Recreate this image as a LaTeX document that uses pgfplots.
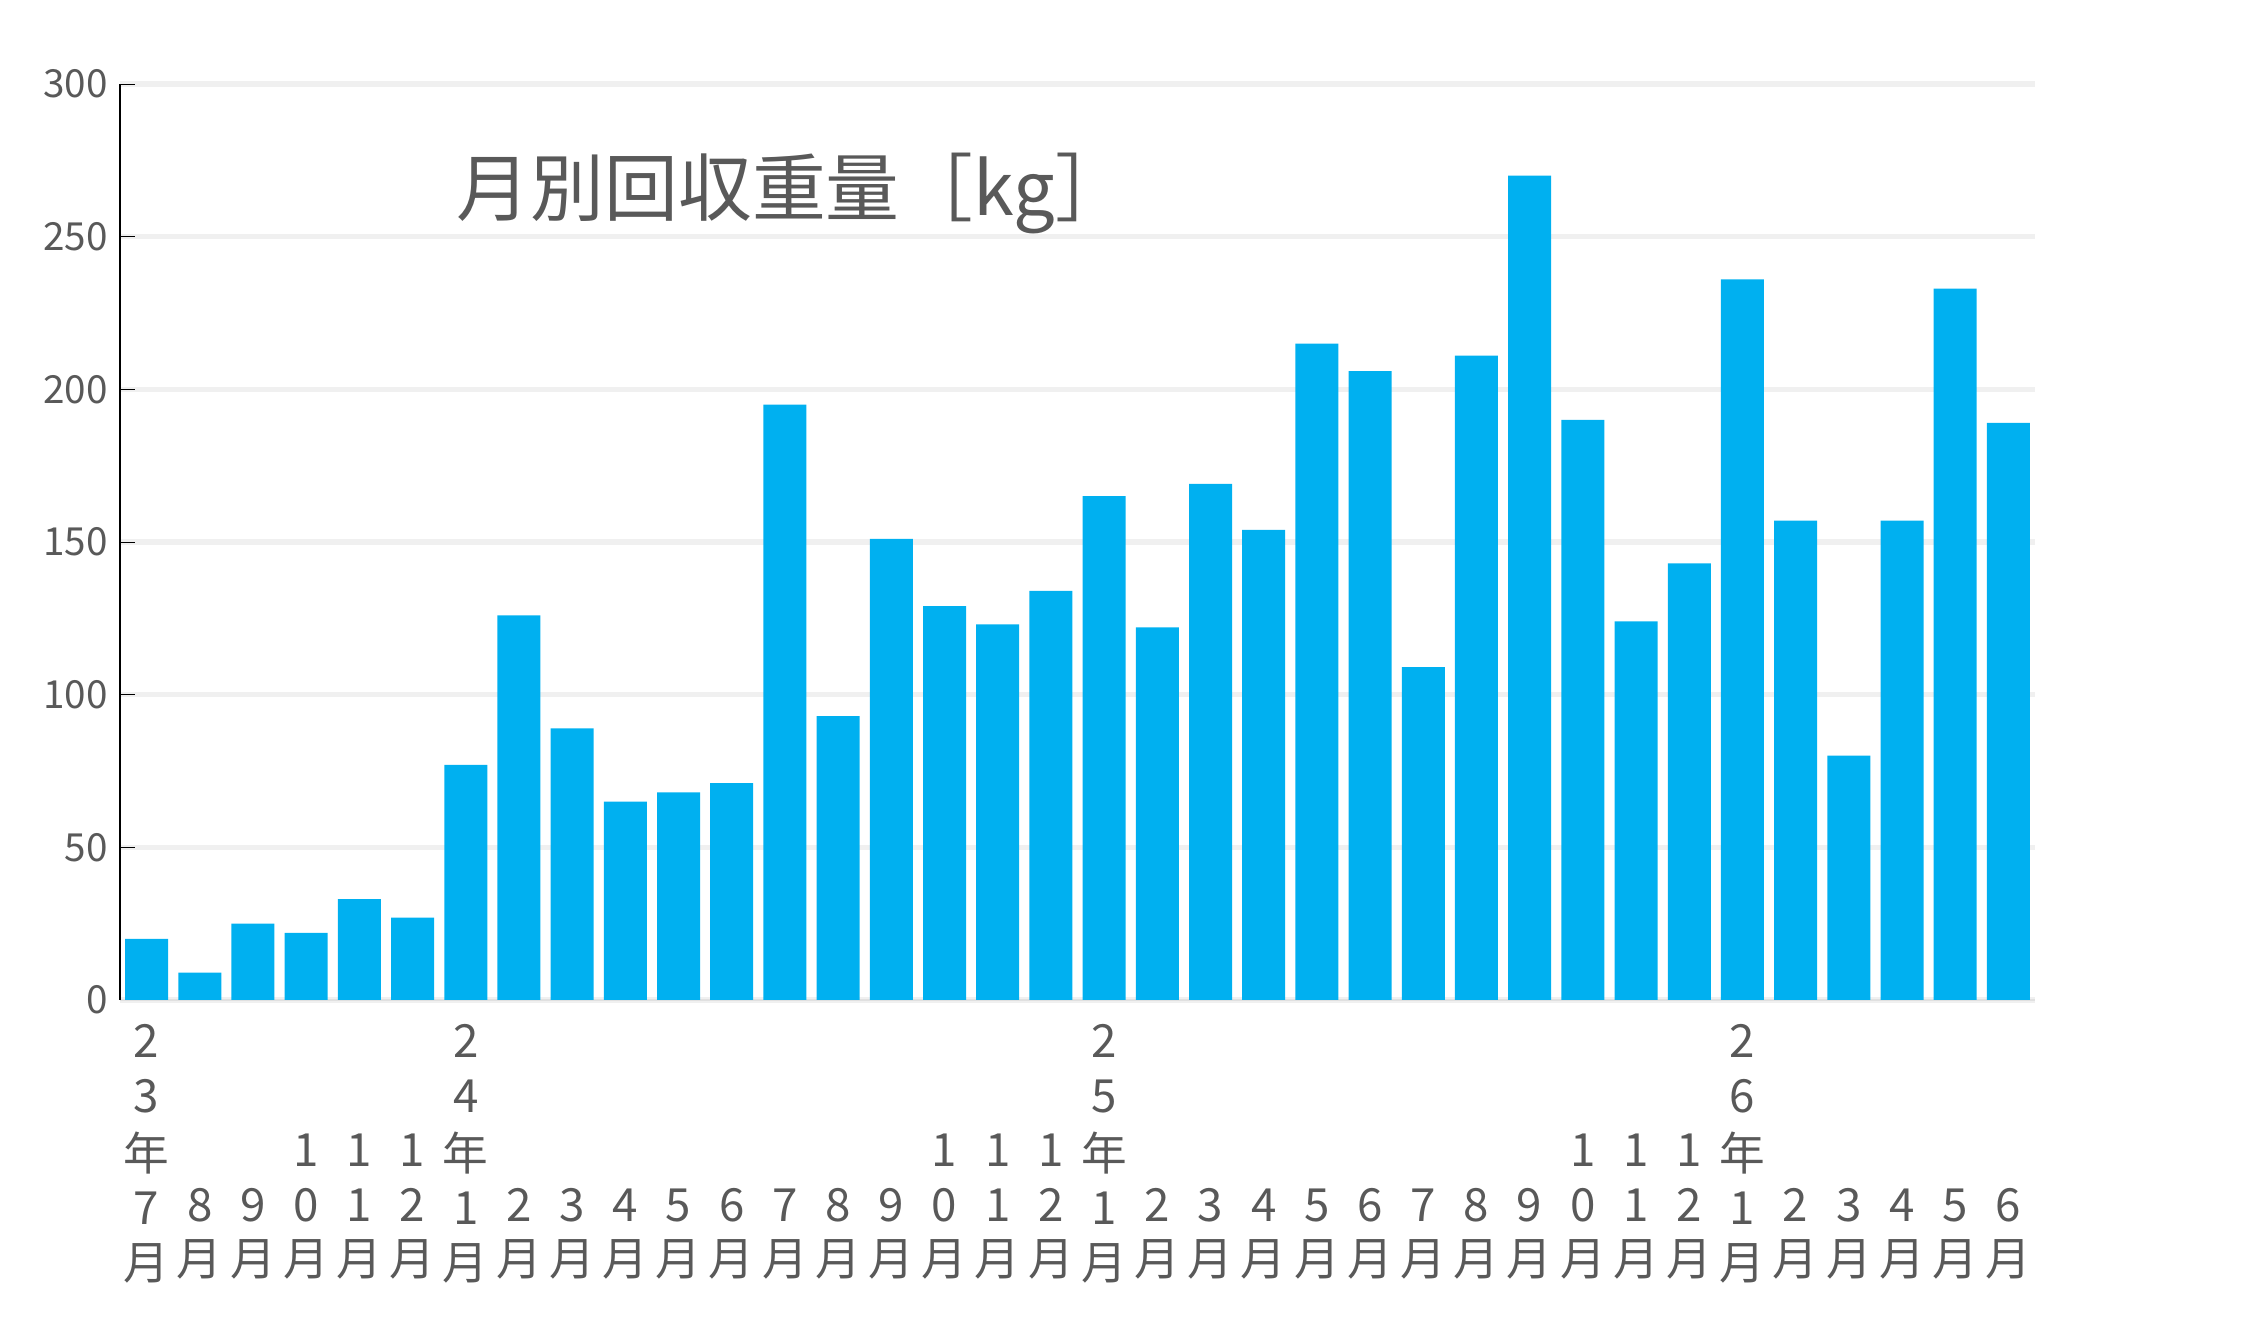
\documentclass[border=0pt]{standalone}
\usepackage{pgfplots}
\pgfplotsset{compat=1.18}
\usepackage{fontspec}
\setmainfont{Noto Sans CJK JP}
\newfontfamily\cjk{Noto Sans CJK JP}
\definecolor{bar}{HTML}{00B0F0}
\definecolor{txt}{HTML}{595959}
\begin{document}
\begin{tikzpicture}
\newcommand{\lab}[5]{\strut #1\\\strut #2\\\strut #3\\\strut #4\\\strut #5}
\begin{axis}[
  scale only axis, width=19.15cm, height=9.16cm,
  xmin=-0.5, xmax=35.5, ymin=0, ymax=300,
  ytick={0,50,...,300},
  ymajorgrids, grid style={draw=black!6, line width=1.5pt},
  axis line style={draw=black!12},
  axis x line*=bottom, axis y line*=left,
  y axis line style={draw=black},
  ytick style={draw=black}, xtick style={draw=black!25},
  yticklabel style={font=\fontsize{11}{13}\selectfont, text=txt},
  /pgf/number format/assume math mode=true,
  xtick={0,...,35},
  xticklabel style={font=\fontsize{13}{15.5}\selectfont, text=txt, align=center, anchor=north, yshift=-2pt},
  xticklabels={
   {\lab{2}{3}{年}{7}{月}},{\lab{}{}{}{8}{月}},{\lab{}{}{}{9}{月}},{\lab{}{}{1}{0}{月}},{\lab{}{}{1}{1}{月}},{\lab{}{}{1}{2}{月}},
   {\lab{2}{4}{年}{1}{月}},{\lab{}{}{}{2}{月}},{\lab{}{}{}{3}{月}},{\lab{}{}{}{4}{月}},{\lab{}{}{}{5}{月}},{\lab{}{}{}{6}{月}},
   {\lab{}{}{}{7}{月}},{\lab{}{}{}{8}{月}},{\lab{}{}{}{9}{月}},{\lab{}{}{1}{0}{月}},{\lab{}{}{1}{1}{月}},{\lab{}{}{1}{2}{月}},
   {\lab{2}{5}{年}{1}{月}},{\lab{}{}{}{2}{月}},{\lab{}{}{}{3}{月}},{\lab{}{}{}{4}{月}},{\lab{}{}{}{5}{月}},{\lab{}{}{}{6}{月}},
   {\lab{}{}{}{7}{月}},{\lab{}{}{}{8}{月}},{\lab{}{}{}{9}{月}},{\lab{}{}{1}{0}{月}},{\lab{}{}{1}{1}{月}},{\lab{}{}{1}{2}{月}},
   {\lab{2}{6}{年}{1}{月}},{\lab{}{}{}{2}{月}},{\lab{}{}{}{3}{月}},{\lab{}{}{}{4}{月}},{\lab{}{}{}{5}{月}},{\lab{}{}{}{6}{月}}},
  clip=false,
]
\addplot[ybar, bar width=0.43cm, fill=bar, draw=none] coordinates {
(0,20)(1,9)(2,25)(3,22)(4,33)(5,27)(6,77)(7,126)(8,89)(9,65)(10,68)(11,71)
(12,195)(13,93)(14,151)(15,129)(16,123)(17,134)(18,165)(19,122)(20,169)(21,154)(22,215)(23,206)
(24,109)(25,211)(26,270)(27,190)(28,124)(29,143)(30,236)(31,157)(32,80)(33,157)(34,233)(35,189)};
\node[anchor=west, text=txt, font=\fontsize{21}{25}\selectfont] at (axis cs:5.6,264) {月別回収重量［kg］};
\end{axis}
\path[use as bounding box] ([xshift=-1.2cm,yshift=-3.2cm]current axis.south west) rectangle ([xshift=2.15cm,yshift=0.84cm]current axis.north east);
\end{tikzpicture}
\end{document}
